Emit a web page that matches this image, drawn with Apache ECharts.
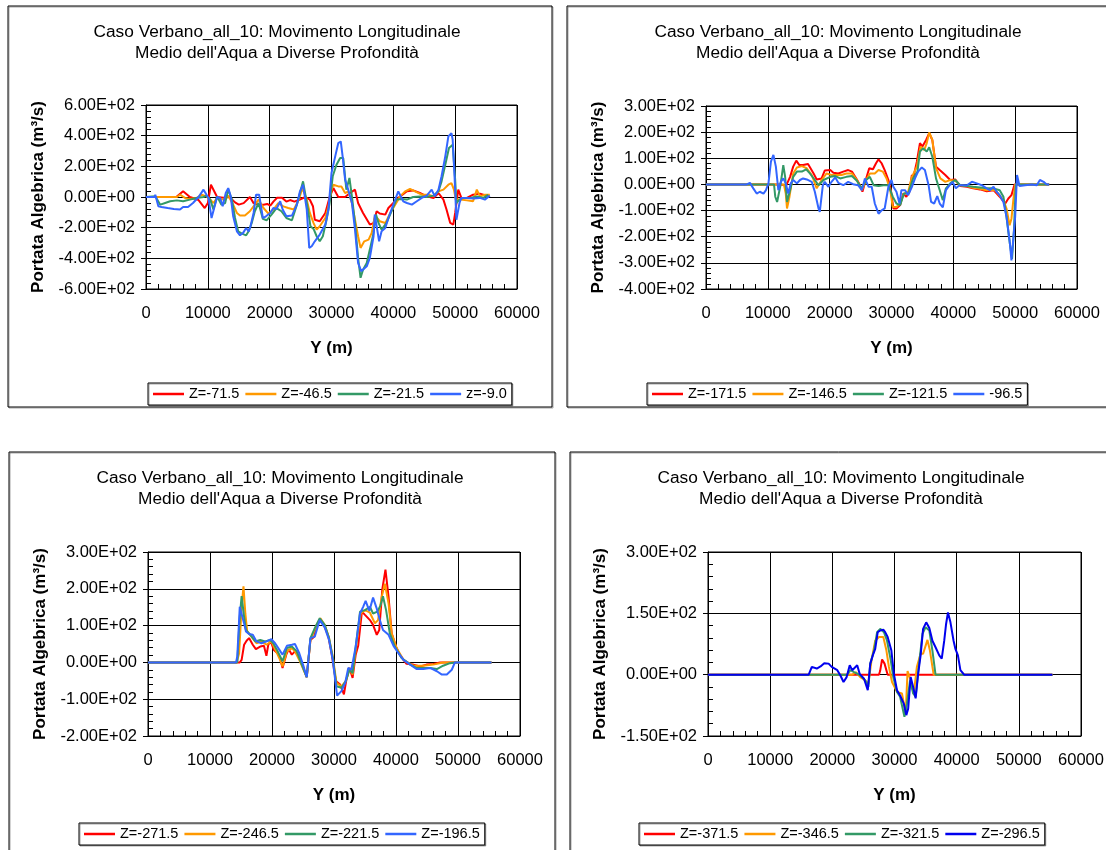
<!DOCTYPE html>
<html><head><meta charset="utf-8">
<script src="https://cdn.jsdelivr.net/npm/echarts/dist/echarts.min.js"></script>
<style>html,body{margin:0;padding:0;background:#fff}#c{width:1106px;height:850px}</style>
</head><body><div id="c"></div>
<script>
// ---------- DATA ----------
const TITLE = "Caso Verbano_all_10: Movimento Longitudinale\nMedio dell'Aqua a Diverse Profondità";
const X_NAME = "Y (m)";
const Y_NAME = "Portata Algebrica (m³/s)";

// Panel 1 (top-left)
const P1_NAMES = ["Z=-71.5", "Z=-46.5", "Z=-21.5", "z=-9.0"];
const P1_Z71 = [[0,0],[4900,0],[6000,37],[7100,0],[8500,-20],[9500,-72],[10000,-40],[10500,80],[11500,0],[12500,-5],[13500,0],[14400,-35],[15000,-50],[15800,-40],[16800,0],[17400,-40],[18200,-50],[19000,-50],[19600,-45],[20100,-56],[20600,-30],[21200,-5],[22000,-5],[22700,-30],[23300,-20],[24000,-30],[24700,-20],[25500,-5],[26000,-5],[26500,-18],[27000,-60],[27300,-148],[28100,-158],[29000,-104],[29700,0],[30300,58],[31100,0],[32200,0],[33000,26],[33800,48],[34300,-39],[35100,-104],[36200,-180],[36800,-170],[37300,-93],[37800,-108],[38700,-115],[39200,-72],[40000,-39],[40800,-6],[42200,37],[43200,43],[44300,26],[45400,4],[46500,-6],[47300,26],[48100,-17],[48600,-82],[49200,-169],[49700,-180],[50000,-104],[50500,48],[51000,-6],[51900,-6],[52900,15],[54000,22],[55100,9],[55500,5]];
const P1_Z46 = [[0,0],[5000,0],[5500,15],[6300,-6],[7100,-13],[8200,-6],[9000,15],[9800,4],[10400,-17],[10900,-39],[11500,-6],[12500,-17],[13300,9],[14100,-50],[14700,-104],[15200,-121],[16000,-121],[16800,-93],[17600,-50],[18200,-17],[19000,-72],[19800,-108],[20600,-82],[21400,-39],[22200,-61],[23000,-72],[23900,-82],[24700,-17],[25300,58],[26000,-17],[26500,-104],[27100,-170],[27600,-213],[28100,-191],[29000,-137],[29500,-61],[30000,48],[30300,80],[31100,69],[31600,69],[32200,26],[32700,37],[33300,-39],[33800,-148],[34300,-256],[34700,-332],[35300,-289],[36000,-278],[36500,-234],[37000,-126],[37400,-137],[37800,-158],[38700,-170],[39500,-104],[40300,-50],[41100,4],[41900,37],[42700,52],[43500,37],[44600,15],[45700,15],[46500,4],[47300,37],[48100,48],[48900,80],[49400,91],[49800,48],[50100,-17],[50800,-17],[51900,-22],[52900,-28],[53500,48],[54000,4],[54800,15],[55600,15]];
const P1_Z21 = [[0,0],[1500,5],[2300,-50],[3100,-39],[3900,-28],[5000,-22],[6000,-28],[7100,-17],[8200,-6],[9300,0],[9800,9],[10400,-17],[10900,-82],[11500,4],[12200,-50],[12800,-39],[13300,48],[13900,-17],[14400,-137],[14900,-224],[15500,-239],[16200,-250],[16600,-224],[17100,-169],[17600,-93],[18200,-39],[18900,-143],[19500,-152],[20300,-115],[21100,-72],[21900,-93],[22700,-137],[23600,-152],[24400,-50],[24900,26],[25400,102],[25700,109],[26200,-82],[26600,-191],[27100,-208],[27600,-256],[28100,-289],[28600,-256],[29200,-148],[29700,-39],[30200,135],[30800,210],[31400,254],[31900,254],[32400,48],[32900,124],[33300,4],[33800,-169],[34300,-397],[34700,-527],[35100,-474],[35700,-430],[36200,-343],[36800,-234],[37200,-115],[37600,-169],[38100,-213],[38900,-169],[39700,-93],[40500,-17],[41300,-13],[42200,-17],[43200,0],[44300,4],[45400,0],[46500,9],[47300,37],[47800,102],[48400,210],[49000,319],[49600,340],[50000,113],[50200,-39],[50700,-17],[51300,-6],[52400,-6],[53500,4],[54600,-6],[55300,15]];
const P1_Z9 = [[0,0],[1400,0],[1500,15],[2000,-60],[2500,-65],[3500,-72],[4500,-78],[5500,-82],[6000,-65],[6800,-65],[7600,-39],[8500,0],[9300,48],[9500,52],[10100,-6],[10600,-137],[10900,-137],[11500,0],[12000,-6],[12400,-60],[12900,26],[13300,58],[13700,4],[14100,-126],[14700,-224],[15200,-250],[15700,-234],[16200,-202],[16600,-224],[16900,-191],[17400,-104],[17800,15],[18300,15],[18900,-137],[19400,-126],[20100,-104],[20600,-72],[21100,-78],[21700,-28],[22100,-82],[22700,-126],[23600,-121],[24400,-50],[24900,37],[25400,80],[25700,91],[26000,-82],[26400,-332],[26800,-321],[27300,-289],[28100,-245],[29000,-180],[29500,-82],[30000,156],[30600,265],[31100,352],[31500,362],[31800,265],[32200,113],[32700,48],[33300,-39],[33800,-213],[34300,-430],[34800,-484],[35100,-474],[35700,-452],[36200,-397],[36800,-256],[37000,-115],[37300,-115],[37700,-289],[38100,-224],[38700,-202],[39200,-137],[39700,-82],[40300,-17],[40800,37],[41600,-28],[42200,-39],[43000,-50],[43800,-28],[44600,-6],[45400,9],[46200,48],[46700,4],[47300,48],[47800,135],[48400,265],[48900,395],[49400,417],[49600,373],[49900,135],[50200,-148],[50700,-39],[51000,-6],[51900,-6],[52900,-9],[54000,-6],[54800,-17],[55600,9]];

// Panel 2 (top-right)
const P2_NAMES = ["Z=-171.5", "Z=-146.5", "Z=-121.5", "-96.5"];
const P2_Z171 = [[0,0],[12000,0],[13000,-3],[13600,29],[14100,68],[14600,91],[15100,74],[15700,74],[16500,78],[17400,42],[17900,19],[18700,23],[19200,53],[20100,55],[20600,45],[21400,42],[22200,49],[23000,55],[23600,49],[24400,19],[24900,-3],[25300,-28],[25900,23],[26400,62],[27000,58],[27500,81],[27900,96],[28400,81],[28900,55],[29500,17],[29900,-22],[30300,-92],[30800,-92],[31400,-79],[31900,-35],[32400,-47],[32900,-28],[33300,36],[33500,23],[34100,87],[34600,158],[35000,145],[35600,170],[36100,196],[36600,170],[37200,68],[37800,55],[38700,36],[39500,17],[40300,19],[41100,-6],[42200,-9],[43200,-15],[44300,-19],[45400,-26],[46500,-22],[47500,-47],[48400,-73],[48900,-54],[49400,-41],[49900,0],[55500,0]];
const P2_Z146 = [[0,0],[12600,0],[12900,-35],[13100,-92],[13500,-47],[14100,42],[14700,65],[15500,70],[16300,62],[17100,36],[17900,-15],[18700,17],[19500,42],[20300,36],[21100,36],[21900,36],[22700,42],[23600,42],[24400,17],[25200,-22],[25900,17],[26500,42],[27300,42],[27900,55],[28600,49],[29200,23],[29800,-22],[30200,-86],[30800,-86],[31400,-73],[32000,-35],[32700,-28],[33300,29],[34100,68],[34700,145],[35300,132],[35700,158],[36100,199],[36600,170],[37200,62],[37900,23],[38700,10],[39500,17],[40300,14],[41100,-3],[42200,-6],[43200,-13],[44300,-17],[45400,-22],[46500,-20],[47000,-28],[48100,-60],[48600,-92],[49100,-156],[49400,-131],[49700,-60],[50000,0],[55500,0]];
const P2_Z121 = [[0,0],[11000,0],[11200,-47],[11500,-67],[12000,-9],[12500,74],[12800,29],[13100,-67],[13600,-22],[14100,29],[14700,49],[15500,49],[16200,58],[16800,42],[17600,17],[18200,-3],[19000,17],[20100,29],[20900,32],[21700,23],[22700,29],[23600,32],[24400,14],[25200,-15],[25900,17],[26500,29],[27100,-3],[27900,-6],[28700,-3],[29500,-3],[30200,-47],[30800,-73],[31400,-79],[32000,-35],[32700,-35],[33500,23],[34200,49],[34600,126],[35100,138],[35700,126],[36100,142],[36600,106],[37200,23],[37800,-22],[38300,-60],[38800,-15],[39500,4],[40300,17],[41100,-3],[43200,-9],[45400,-15],[46500,-15],[47500,-22],[48100,-47],[48600,-124],[49100,-220],[49500,-285],[49800,-176],[50100,0],[55500,0]];
const P2_Z96 = [[0,0],[6600,0],[7100,6],[7650,-15],[8200,-35],[8700,-28],[9300,-35],[9700,-22],[10100,4],[10500,87],[10900,113],[11300,68],[11700,-22],[12100,10],[12500,23],[12900,4],[13300,-35],[13700,4],[14100,17],[14700,4],[15200,17],[15700,23],[16300,19],[17100,10],[17600,-28],[18200,-92],[18400,-105],[18900,-3],[19200,10],[19800,-9],[20300,10],[20900,27],[21400,6],[22200,-3],[23000,10],[23800,1],[24600,-3],[25200,-22],[25700,23],[26300,-9],[26800,-9],[27300,-73],[27900,-112],[28400,-99],[28900,-92],[29500,-9],[30000,17],[30300,-9],[30800,-28],[31300,-73],[31600,-22],[32200,-22],[32700,-41],[33300,-9],[33800,23],[34300,49],[34900,65],[35400,55],[36000,-3],[36400,-67],[36900,-73],[37400,-45],[37800,-73],[38300,-88],[38800,-22],[39400,-3],[39900,10],[40400,-15],[41000,-3],[42200,-3],[43000,10],[43800,4],[44600,-3],[45400,-15],[45900,-22],[46500,-9],[47000,-28],[47500,-41],[48100,-67],[48600,-124],[49100,-214],[49400,-291],[49700,-297],[50000,-124],[50300,36],[50700,-6],[51600,-3],[52700,0],[53500,-3],[54000,17],[54600,10],[55100,0],[55500,0]];

// Panel 3 (bottom-left)
const P3_NAMES = ["Z=-271.5", "Z=-246.5", "Z=-221.5", "Z=-196.5"];
const P3_Z271 = [[0,0],[14800,0],[15100,7],[15500,48],[15900,59],[16300,66],[16900,48],[17400,36],[18100,43],[18700,45],[19100,18],[19400,48],[19800,57],[20300,34],[20900,25],[21300,12],[21700,-15],[22300,21],[22700,36],[23200,21],[23700,30],[24200,21],[24800,-2],[25600,-40],[26200,61],[26800,70],[27200,102],[27800,117],[28500,97],[29100,70],[29600,25],[30300,-51],[31000,-60],[31600,-87],[32000,-47],[32500,-15],[33000,-42],[33500,21],[33900,45],[34500,138],[35000,129],[35800,115],[36300,102],[36900,75],[37300,88],[37800,200],[38300,252],[38800,178],[39300,79],[40000,43],[40600,21],[41700,-4],[42800,-6],[43900,-11],[44900,-6],[46000,-4],[47100,0],[55400,0]];
const P3_Z246 = [[0,0],[14300,0],[14700,25],[15100,151],[15400,207],[15700,133],[16000,84],[16700,70],[17500,52],[18300,57],[19100,48],[19900,57],[20800,25],[21300,7],[21700,-11],[22400,30],[23200,39],[23700,30],[24500,3],[25600,-40],[26200,61],[27100,97],[27800,120],[28500,102],[29200,66],[29800,16],[30400,-56],[31200,-65],[31900,-51],[32500,-15],[33000,-33],[33500,34],[34300,133],[35000,142],[35800,135],[36600,106],[37100,115],[37700,178],[38200,214],[38800,160],[39300,79],[40100,39],[41200,7],[42800,-9],[44400,-9],[46000,-6],[47600,0],[55400,0]];
const P3_Z221 = [[0,0],[14400,0],[14800,124],[15100,180],[15500,124],[15800,88],[16500,75],[17300,57],[18100,61],[18900,57],[19700,61],[20200,52],[20800,34],[21700,3],[22400,39],[23200,43],[24000,30],[24800,-6],[25600,-40],[26200,66],[26900,93],[27700,120],[28500,102],[29200,66],[29800,12],[30400,-65],[31200,-69],[31900,-51],[32500,-20],[33000,-29],[33500,43],[34200,138],[35000,142],[35800,151],[36300,133],[37000,138],[37500,155],[37900,180],[38400,142],[39000,79],[39800,43],[40900,12],[42300,-6],[43300,-15],[44400,-15],[45500,-15],[46600,-18],[47600,-9],[48700,-2],[49500,0],[55400,0]];
const P3_Z196 = [[0,0],[14200,0],[14400,16],[14800,151],[15100,153],[15500,106],[15800,84],[16300,77],[16900,75],[17500,57],[18300,52],[19100,57],[19900,63],[20500,52],[21200,34],[21700,21],[22400,45],[23200,48],[23700,50],[24400,25],[25100,-11],[25600,-40],[26200,66],[26900,70],[27700,115],[28500,95],[29200,61],[29800,7],[30500,-90],[31200,-78],[31800,-56],[32300,-15],[32800,-20],[33500,43],[34200,133],[34700,151],[35100,167],[35700,140],[36300,176],[36900,146],[37400,115],[37900,88],[38800,75],[39600,45],[40400,25],[41200,7],[42300,-6],[43300,-18],[44400,-18],[45500,-15],[46600,-24],[47400,-33],[48200,-33],[49000,-20],[49500,0],[55400,0]];

// Panel 4 (bottom-right)
const P4_NAMES = ["Z=-371.5", "Z=-346.5", "Z=-321.5", "Z=-296.5"];
const P4_Z371 = [[0,0],[27500,0],[27700,10],[28000,37],[28400,27],[28900,0],[55400,0]];
const P4_Z346 = [[0,0],[23200,0],[23800,6],[24500,-6],[25300,-14],[25800,-22],[26300,35],[26900,83],[27500,92],[28200,92],[28700,59],[29100,19],[29600,-18],[30400,-42],[31200,-46],[31800,-95],[32100,9],[32600,-14],[33100,-46],[33600,19],[34200,51],[34600,51],[35300,85],[35700,59],[36100,19],[36300,0],[55400,0]];
const P4_Z321 = [[0,0],[22400,0],[22900,11],[23500,6],[24500,-2],[25300,-14],[25800,-30],[26100,27],[26700,59],[27200,104],[27700,112],[28300,104],[28800,83],[29400,35],[29800,-6],[30400,-42],[30900,-54],[31600,-103],[32000,-71],[32500,-14],[33000,-46],[33400,-54],[33900,19],[34500,100],[35000,116],[35600,108],[36100,59],[36600,0],[55400,0]];
const P4_Z296 = [[0,0],[16200,0],[16700,19],[17500,15],[18100,20],[18700,28],[19400,27],[19900,19],[20800,11],[21300,-2],[21800,-18],[22300,-6],[22800,23],[23200,11],[23500,15],[24000,23],[24400,2],[25100,-10],[25700,-38],[26100,27],[26600,51],[26900,63],[27300,104],[27700,108],[28200,110],[28500,104],[28900,92],[29500,59],[29900,2],[30400,-38],[30900,-51],[31500,-71],[31900,-99],[32200,-83],[32600,-6],[33000,-30],[33400,-58],[33800,2],[34200,47],[34600,112],[35100,128],[35600,114],[36100,83],[36600,67],[37200,47],[37600,39],[38000,83],[38300,124],[38600,152],[39000,128],[39500,83],[39800,63],[40200,47],[40600,11],[41200,0],[55400,0]];

// Axis ranges
const X_RANGE = {min: 0, max: 60000, interval: 10000};
const Y_RANGES = [
  {min: -600, max: 600, interval: 200},
  {min: -400, max: 300, interval: 100},
  {min: -200, max: 300, interval: 100},
  {min: -150, max: 300, interval: 150}
];

// ---------- STYLE / LAYOUT ----------
const COLORS = ['#FF0000', '#FF9900', '#339966', '#3366FF'];
const COLORS4 = ['#FF0000', '#FF9900', '#339966', '#0000EE'];
const FONT = 'Liberation Sans, Arial, sans-serif';

const panels = [
  {names: P1_NAMES, data: [P1_Z71, P1_Z46, P1_Z21, P1_Z9], colors: COLORS,
   grid: {left: 146, top: 105, width: 371, height: 184},
   frame: [8, 6, 544, 401], titleX: 277, titleY: 22, legend: {left: 148, top: 383}},
  {names: P2_NAMES, data: [P2_Z171, P2_Z146, P2_Z121, P2_Z96], colors: COLORS,
   grid: {left: 706, top: 106, width: 371, height: 183},
   frame: [567, 6, 600, 401], titleX: 838, titleY: 22, legend: {left: 647, top: 383}},
  {names: P3_NAMES, data: [P3_Z271, P3_Z246, P3_Z221, P3_Z196], colors: COLORS,
   grid: {left: 148, top: 552, width: 372, height: 184},
   frame: [9, 452, 546, 450], titleX: 280, titleY: 468, legend: {left: 79, top: 823}},
  {names: P4_NAMES, data: [P4_Z371, P4_Z346, P4_Z321, P4_Z296], colors: COLORS4,
   grid: {left: 708, top: 552, width: 373, height: 184},
   frame: [570, 452, 600, 450], titleX: 841, titleY: 468, legend: {left: 639, top: 823}}
];

function sci(v) {
  const s = Number(v).toExponential(2);
  const parts = s.split('e');
  const sign = parts[1][0] === '-' ? '-' : '+';
  const d = parts[1].replace(/[+-]/, '').padStart(2, '0');
  return parts[0] + 'E' + sign + d;
}

const option = {
  animation: false,
  backgroundColor: '#fff',
  textStyle: {fontFamily: FONT},
  title: [], legend: [], grid: [], xAxis: [], yAxis: [], series: [], graphic: []
};

panels.forEach((p, i) => {
  option.graphic.push({
    type: 'rect', shape: {x: p.frame[0], y: p.frame[1], width: p.frame[2], height: p.frame[3]},
    style: {fill: 'none', stroke: '#000', lineWidth: 1, shadowColor: 'rgba(0,0,0,0.35)', shadowOffsetX: 1, shadowOffsetY: 1, shadowBlur: 0},
    silent: true, z: -10
  });
  option.title.push({
    text: TITLE, left: p.titleX, top: p.titleY, textAlign: 'center', padding: 0,
    textStyle: {fontSize: 17.3, fontWeight: 'normal', color: '#000', lineHeight: 21, fontFamily: FONT}
  });
  option.legend.push({
    data: p.names, left: p.legend.left, top: p.legend.top, orient: 'horizontal',
    icon: 'rect', itemWidth: 31, itemHeight: 2.5, itemGap: 6, padding: [3, 5, 3, 5],
    borderColor: '#000', borderWidth: 1, backgroundColor: '#fff',
    shadowColor: 'rgba(0,0,0,0.35)', shadowOffsetX: 1, shadowOffsetY: 1,
    selectedMode: false,
    textStyle: {fontSize: 14.5, color: '#000', fontFamily: FONT, lineHeight: 16}
  });
  option.grid.push(Object.assign({show: true, borderColor: '#000', borderWidth: 1, backgroundColor: '#fff', containLabel: false, outerBoundsMode: 'none'}, p.grid));
  option.xAxis.push({
    type: 'value', gridIndex: i, min: X_RANGE.min, max: X_RANGE.max, interval: X_RANGE.interval,
    name: X_NAME, nameLocation: 'middle', nameGap: 51, nameMoveOverlap: false,
    nameTextStyle: {fontSize: 17, fontWeight: 'bold', color: '#000', fontFamily: FONT},
    axisLine: {show: true, onZero: false, lineStyle: {color: '#000', width: 1}},
    axisTick: {show: true, inside: true, length: 5, lineStyle: {color: '#000'}},
    minorTick: {show: true, splitNumber: 5, length: 5, lineStyle: {color: '#000'}},
    axisLabel: {fontSize: 16.5, color: '#000', margin: 16, fontFamily: FONT, hideOverlap: false, formatter: v => String(v)},
    splitLine: {show: true, lineStyle: {color: '#000', width: 1}},
    minorSplitLine: {show: false}
  });
  const yr = Y_RANGES[i];
  option.yAxis.push({
    type: 'value', gridIndex: i, min: yr.min, max: yr.max, interval: yr.interval,
    name: Y_NAME, nameLocation: 'middle', nameGap: 99, nameRotate: 90, nameMoveOverlap: false,
    nameTextStyle: {fontSize: 17, fontWeight: 'bold', color: '#000', fontFamily: FONT},
    axisLine: {show: true, onZero: false, lineStyle: {color: '#000', width: 1}},
    axisTick: {show: true, inside: true, length: 5, lineStyle: {color: '#000'}},
    minorTick: {show: true, splitNumber: 5, length: 5, lineStyle: {color: '#000'}},
    axisLabel: {fontSize: 16.5, color: '#000', margin: 11, formatter: sci, fontFamily: FONT, hideOverlap: false},
    splitLine: {show: true, lineStyle: {color: '#000', width: 1}},
    minorSplitLine: {show: false}
  });
  p.names.forEach((n, k) => {
    option.series.push({
      name: n, type: 'line', xAxisIndex: i, yAxisIndex: i, data: p.data[k],
      symbol: 'none', showSymbol: false, smooth: false,
      lineStyle: {color: p.colors[k], width: 2},
      itemStyle: {color: p.colors[k]}, emphasis: {disabled: true}
    });
  });
});

// extra axes drawing only the outward major ticks
panels.forEach((p, i) => {
  const yr = Y_RANGES[i];
  option.xAxis.push({
    type: 'value', gridIndex: i, min: X_RANGE.min, max: X_RANGE.max, interval: X_RANGE.interval,
    axisLine: {show: false}, axisLabel: {show: false}, splitLine: {show: false},
    axisTick: {show: true, inside: false, length: 5, lineStyle: {color: '#000'}}, minorTick: {show: false}
  });
  option.yAxis.push({
    type: 'value', gridIndex: i, min: yr.min, max: yr.max, interval: yr.interval, position: 'left',
    axisLine: {show: false}, axisLabel: {show: false}, splitLine: {show: false},
    axisTick: {show: true, inside: false, length: 5, lineStyle: {color: '#000'}}, minorTick: {show: false}
  });
});

const chart = echarts.init(document.getElementById('c'), null, {renderer: 'canvas'});
chart.setOption(option);
</script>
</body></html>
